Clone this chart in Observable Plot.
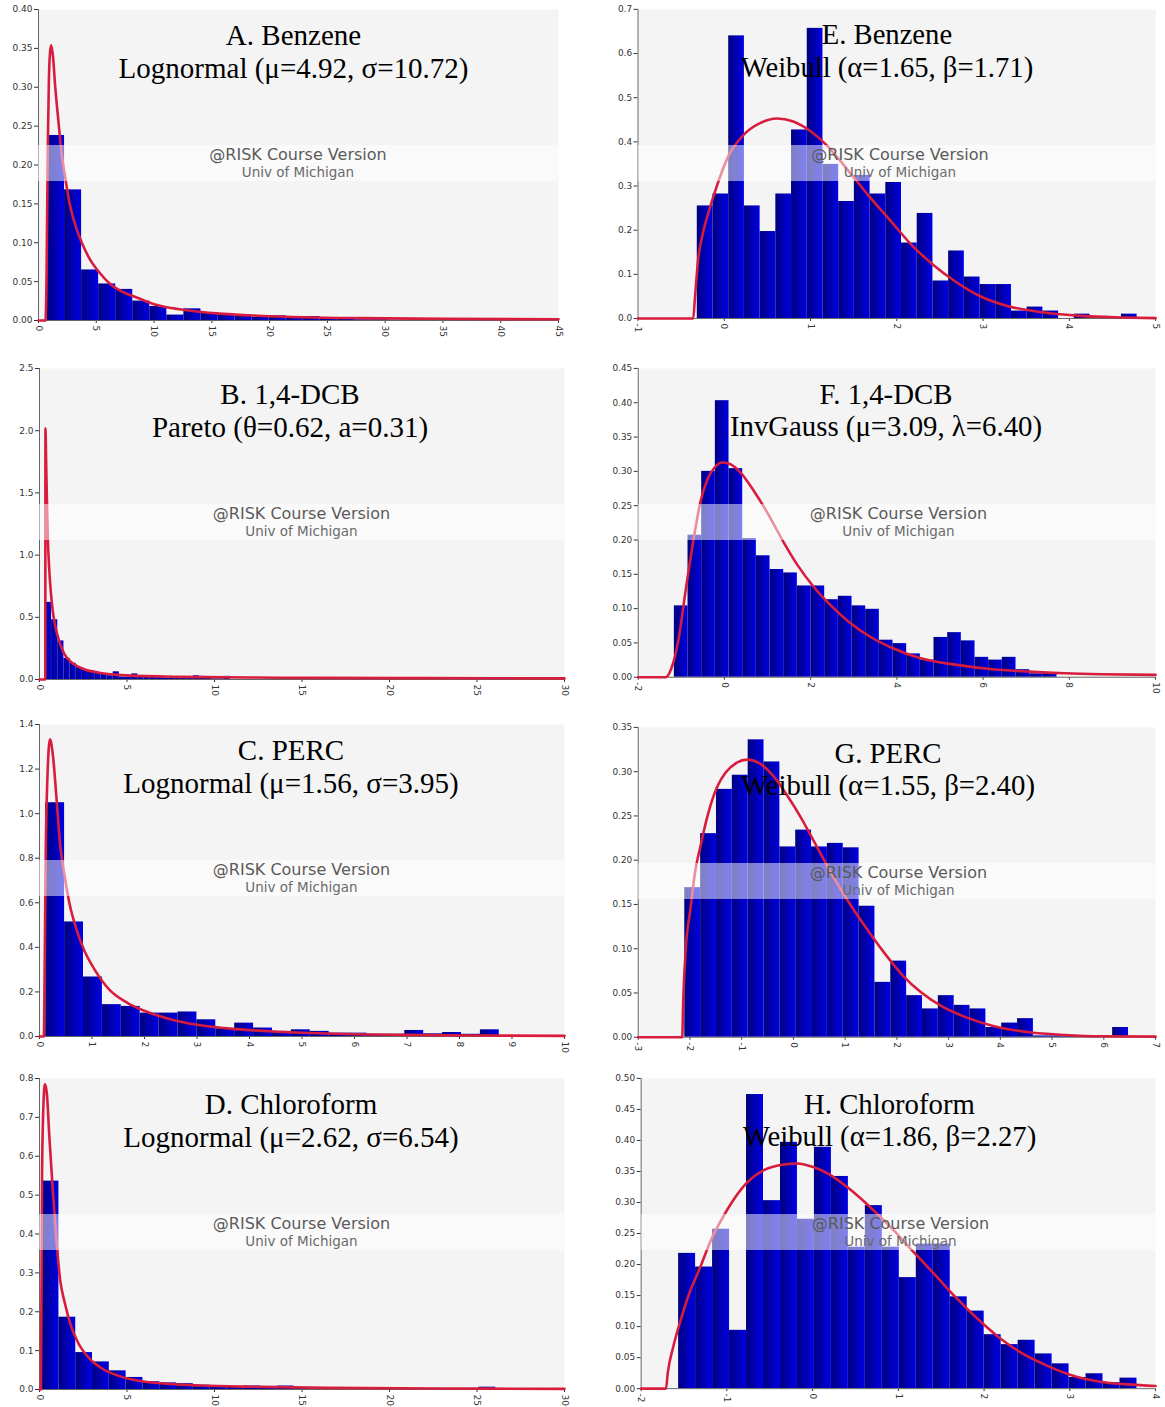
<!DOCTYPE html>
<html>
<head>
<meta charset="utf-8">
<script src="https://cdn.jsdelivr.net/npm/d3@7"></script>
<script src="https://cdn.jsdelivr.net/npm/@observablehq/plot@0.6"></script>
<style>
  body { margin: 0; background: #fff; }
  #page { position: relative; width: 1165px; height: 1407px; overflow: hidden; }
  .panel { position: absolute; }
  .band { position: absolute; background: rgba(255,255,255,0.5); text-align: center;
          font-family: "DejaVu Sans", Verdana, sans-serif; pointer-events: none; }
  .band .l1 { font-size: 16px; color: #5a5a5a; line-height: 19px; margin-top: 0px; }
  .band .l2 { font-size: 13.5px; color: #6a6a6a; line-height: 16px; }
</style>
</head>
<body>
<div id="page"></div>
<script>
// ---------- A. Benzene, lognormal fit ----------
const aTitle = "A. Benzene\nLognormal (μ=4.92, σ=10.72)";
const aStart = 0.78, aWidth = 1.475;
const aHeights = [0.238,0.168,0.065,0.047,0.040,0.025,0.018,0.007,0.015,0.009,0.008,0.007,0.004,0.006,0.004,0.005,0.003,0.003,0.001,0.001,0.0005,0.0005,0.0005,0.0005,0.0005,0.0005,0.0005,0.0005,0.002,0.0005];
const aCurve = [[0,0],[0.6,0],[0.7,0.06],[0.8,0.22],[0.9,0.31],[1.0,0.345],[1.1,0.354],[1.25,0.34],[1.45,0.30],[1.7,0.26],[2.0,0.215],[2.3,0.185],[2.7,0.15],[3.2,0.122],[3.75,0.10],[4.4,0.08],[5.2,0.063],[6.2,0.047],[7.4,0.036],[8.6,0.029],[10,0.021],[11.5,0.016],[13.5,0.012],[16,0.0085],[19,0.0062],[23,0.0042],[28,0.003],[35,0.0022],[45,0.0016]];
const aXTicks = [0,5,10,15,20,25,30,35,40,45];
const aYTicks = [0,0.05,0.10,0.15,0.20,0.25,0.30,0.35,0.40];

// ---------- B. 1,4-DCB, Pareto fit ----------
const bTitle = "B. 1,4-DCB\nPareto (θ=0.62, a=0.31)";
const bStart = 0.34, bWidth = 0.352;
const bHeights = [0.62,0.48,0.31,0.17,0.13,0.095,0.075,0.07,0.05,0.04,0.03,0.062,0.02,0.02,0.045,0.02,0.03,0.02,0.015,0.01,0.008,0.01,0.012,0.015,0.03,0.025,0.008,0.005,0.005,0.025];
const bCurve = [[0,0],[0.33,0],[0.34,2.02],[0.38,1.75],[0.43,1.4],[0.48,1.12],[0.55,0.9],[0.65,0.7],[0.75,0.56],[0.9,0.43],[1.1,0.32],[1.4,0.21],[1.9,0.13],[2.5,0.085],[3.4,0.055],[5,0.033],[8,0.021],[12,0.016],[16,0.013],[22,0.011],[30,0.009]];
const bXTicks = [0,5,10,15,20,25,30];
const bYTicks = [0,0.5,1.0,1.5,2.0,2.5];

// ---------- C. PERC, lognormal fit ----------
const cTitle = "C. PERC\nLognormal (μ=1.56, σ=3.95)";
const cStart = 0.118, cWidth = 0.36;
const cHeights = [1.049,0.514,0.267,0.143,0.135,0.105,0.105,0.110,0.075,0.035,0.060,0.038,0.023,0.030,0.023,0.015,0.015,0.010,0.010,0.027,0.012,0.018,0.010,0.030];
const cCurve = [[0,0],[0.083,0],[0.097,0.27],[0.118,0.81],[0.152,1.17],[0.2,1.334],[0.256,1.26],[0.325,1.066],[0.395,0.856],[0.478,0.721],[0.568,0.60],[0.706,0.48],[0.845,0.39],[1.05,0.30],[1.33,0.21],[1.68,0.15],[2.02,0.113],[2.58,0.072],[3.13,0.048],[3.75,0.033],[4.45,0.0225],[5.48,0.0135],[6.87,0.0075],[8.25,0.0045],[10,0.003]];
const cXTicks = [0,1,2,3,4,5,6,7,8,9,10];
const cYTicks = [0,0.2,0.4,0.6,0.8,1.0,1.2,1.4];

// ---------- D. Chloroform, lognormal fit ----------
const dTitle = "D. Chloroform\nLognormal (μ=2.62, σ=6.54)";
const dStart = 0.15, dWidth = 0.96;
const dHeights = [0.536,0.186,0.095,0.071,0.048,0.031,0.020,0.017,0.015,0.011,0.009,0.007,0.009,0.008,0.009,0.003,0.002,0.002,0.002,0.002,0.002,0.002,0.001,0.001,0.001,0.001,0.006];
const dCurve = [[0,0],[0.08,0],[0.145,0.549],[0.23,0.738],[0.31,0.785],[0.415,0.764],[0.56,0.652],[0.77,0.506],[0.98,0.377],[1.18,0.282],[1.45,0.222],[1.81,0.162],[2.22,0.119],[2.85,0.080],[3.57,0.054],[4.40,0.037],[5.65,0.0224],[7.1,0.0155],[9.18,0.0103],[12.3,0.0069],[16.5,0.0043],[22.7,0.0026],[30,0.0017]];
const dXTicks = [0,5,10,15,20,25,30];
const dYTicks = [0,0.1,0.2,0.3,0.4,0.5,0.6,0.7,0.8];

// ---------- E. Benzene (log scale), Weibull fit ----------
const eTitle = "E. Benzene\nWeibull (α=1.65, β=1.71)";
const eStart = -0.313, eWidth = 0.1821;
const eHeights = [0.255,0.282,0.640,0.255,0.197,0.282,0.427,0.657,0.349,0.265,0.324,0.282,0.308,0.171,0.238,0.085,0.153,0.094,0.077,0.077,0.017,0.026,0.017,0.0,0.010,0.002,0.002,0.010];
const eCurve = [[-1,0],[-0.36,0],[-0.34,0.047],[-0.305,0.13],[-0.243,0.197],[-0.18,0.242],[-0.12,0.28],[0.05,0.369],[0.22,0.415],[0.42,0.443],[0.61,0.453],[0.8,0.446],[1.0,0.424],[1.2,0.39],[1.42,0.339],[1.67,0.279],[1.92,0.223],[2.17,0.167],[2.42,0.122],[2.67,0.085],[2.96,0.051],[3.29,0.028],[3.71,0.0135],[4.13,0.006],[4.6,0.0025],[5,0.001]];
const eXTicks = [-1,0,1,2,3,4,5];
const eYTicks = [0,0.1,0.2,0.3,0.4,0.5,0.6,0.7];

// ---------- F. 1,4-DCB (log scale), inverse Gaussian fit ----------
const fTitle = "F. 1,4-DCB\nInvGauss (μ=3.09, λ=6.40)";
const fStart = -1.162, fWidth = 0.317;
const fHeights = [0.104,0.207,0.300,0.403,0.304,0.202,0.177,0.157,0.152,0.133,0.133,0.113,0.118,0.104,0.099,0.054,0.049,0.034,0.025,0.058,0.065,0.053,0.029,0.025,0.029,0.011,0.005,0.006];
const fCurve = [[-2,0],[-1.36,0],[-1.23,0.013],[-1.06,0.057],[-0.894,0.129],[-0.726,0.197],[-0.559,0.255],[-0.39,0.289],[-0.223,0.306],[-0.056,0.313],[0.112,0.311],[0.363,0.299],[0.698,0.27],[1.03,0.236],[1.37,0.197],[1.70,0.163],[2.04,0.134],[2.46,0.105],[2.88,0.081],[3.38,0.059],[3.88,0.043],[4.55,0.0276],[5.39,0.018],[6.23,0.0116],[7.07,0.0082],[7.9,0.0058],[8.74,0.0044],[10,0.0034]];
const fXTicks = [-2,0,2,4,6,8,10];
const fYTicks = [0,0.05,0.10,0.15,0.20,0.25,0.30,0.35,0.40,0.45];

// ---------- G. PERC (log scale), Weibull fit ----------
const gTitle = "G. PERC\nWeibull (α=1.55, β=2.40)";
const gStart = -2.1, gWidth = 0.3063;
const gHeights = [0.169,0.230,0.280,0.296,0.336,0.311,0.215,0.234,0.215,0.219,0.214,0.148,0.062,0.086,0.047,0.032,0.047,0.036,0.032,0.011,0.016,0.021,0.0015,0.0015,0.0015,0.0015,0.001,0.011];
const gCurve = [[-3,0],[-2.148,0],[-2.134,0.033],[-2.08,0.10],[-1.99,0.145],[-1.90,0.187],[-1.80,0.215],[-1.66,0.25],[-1.48,0.282],[-1.31,0.299],[-1.10,0.31],[-0.89,0.3136],[-0.647,0.309],[-0.40,0.296],[-0.12,0.273],[0.156,0.247],[0.436,0.217],[0.715,0.187],[1.064,0.153],[1.41,0.123],[1.76,0.095],[2.11,0.070],[2.46,0.051],[2.88,0.0345],[3.30,0.0233],[3.86,0.0128],[4.56,0.0056],[5.25,0.0026],[5.95,0.0011],[7,0.0007]];
const gXTicks = [-3,-2,-1,0,1,2,3,4,5,6,7];
const gYTicks = [0,0.05,0.10,0.15,0.20,0.25,0.30,0.35];

// ---------- H. Chloroform (log scale), Weibull fit ----------
const hTitle = "H. Chloroform\nWeibull (α=1.86, β=2.27)";
const hStart = -1.563, hWidth = 0.198;
const hHeights = [0.218,0.196,0.257,0.094,0.474,0.303,0.397,0.273,0.389,0.342,0.228,0.295,0.228,0.179,0.233,0.233,0.148,0.125,0.087,0.071,0.078,0.056,0.040,0.018,0.024,0.0096,0.017];
const hCurve = [[-2,0],[-1.71,0],[-1.69,0.025],[-1.626,0.067],[-1.54,0.11],[-1.44,0.153],[-1.31,0.196],[-1.19,0.238],[-1.06,0.273],[-0.934,0.302],[-0.766,0.332],[-0.556,0.353],[-0.346,0.361],[-0.178,0.363],[-0.01,0.358],[0.2,0.345],[0.41,0.324],[0.66,0.294],[0.913,0.26],[1.165,0.222],[1.417,0.185],[1.67,0.147],[1.92,0.113],[2.17,0.083],[2.42,0.059],[2.72,0.038],[3.01,0.022],[3.35,0.0112],[3.68,0.0069],[4,0.0043]];
const hXTicks = [-2,-1,0,1,2,3,4];
const hYTicks = [0,0.05,0.10,0.15,0.20,0.25,0.30,0.35,0.40,0.45,0.50];

// Panel layout: frame = [left, top, right, bottom] of the plotting area on the page
const panels = [
  {id: "a", title: aTitle, start: aStart, width: aWidth, heights: aHeights, curve: aCurve, xTicks: aXTicks, yTicks: aYTicks, yDec: 2, frame: [38, 9, 558, 320], dx: -5},
  {id: "e", title: eTitle, start: eStart, width: eWidth, heights: eHeights, curve: eCurve, xTicks: eXTicks, yTicks: eYTicks, yDec: 1, frame: [638, 9, 1162, 322], dx: -10},
  {id: "b", title: bTitle, start: bStart, width: bWidth, heights: bHeights, curve: bCurve, xTicks: bXTicks, yTicks: bYTicks, yDec: 1, frame: [39, 368, 564, 679], dx: -12},
  {id: "f", title: fTitle, start: fStart, width: fWidth, heights: fHeights, curve: fCurve, xTicks: fXTicks, yTicks: fYTicks, yDec: 2, frame: [638, 368, 1159, 679], dx: -11},
  {id: "c", title: cTitle, start: cStart, width: cWidth, heights: cHeights, curve: cCurve, xTicks: cXTicks, yTicks: cYTicks, yDec: 1, frame: [39, 724, 564, 1036], dx: -11},
  {id: "g", title: gTitle, start: gStart, width: gWidth, heights: gHeights, curve: gCurve, xTicks: gXTicks, yTicks: gYTicks, yDec: 2, frame: [638, 727, 1159, 1039], dx: -9},
  {id: "d", title: dTitle, start: dStart, width: dWidth, heights: dHeights, curve: dCurve, xTicks: dXTicks, yTicks: dYTicks, yDec: 1, frame: [39, 1078, 564, 1389], dx: -11},
  {id: "h", title: hTitle, start: hStart, width: hWidth, heights: hHeights, curve: hCurve, xTicks: hXTicks, yTicks: hYTicks, yDec: 2, frame: [641, 1078, 1160, 1391], dx: -9}
];

const page = document.getElementById("page");
const M = {left: 40, top: 10, right: 10, bottom: 32};

function drawPanel(p) {
  const [L, T, R, B] = p.frame;
  const W = R - L, H = B - T;
  const bars = p.heights.map((h, i) => ({x1: p.start + i * p.width, x2: p.start + (i + 1) * p.width, y: h}));
  const xDomain = [p.xTicks[0], p.xTicks[p.xTicks.length - 1]];
  const yDomain = [p.yTicks[0], p.yTicks[p.yTicks.length - 1]];
  const gid = "barShade-" + p.id;

  // horizontal shading used by every histogram bar (dark left edge to bright right edge)
  const shading = () => {
    const defs = d3.create("svg:defs");
    const lg = defs.append("linearGradient").attr("id", gid)
      .attr("x1", 0).attr("x2", 1).attr("y1", 0).attr("y2", 0);
    lg.append("stop").attr("offset", "0%").attr("stop-color", "#000080");
    lg.append("stop").attr("offset", "100%").attr("stop-color", "#0000e4");
    return defs.node();
  };

  const chart = Plot.plot({
    width: W + M.left + M.right,
    height: H + M.top + M.bottom,
    marginLeft: M.left, marginTop: M.top, marginRight: M.right, marginBottom: M.bottom,
    style: {fontFamily: "DejaVu Sans, Verdana, sans-serif", fontSize: "9px", color: "#333", background: "transparent", overflow: "visible"},
    x: {domain: xDomain, ticks: p.xTicks, tickFormat: d => String(d), tickRotate: 90, tickSize: 3, tickPadding: 2, label: null},
    y: {domain: yDomain, ticks: p.yTicks, tickFormat: d => d.toFixed(p.yDec), tickSize: 4, tickPadding: 2, label: null},
    marks: [
      Plot.frame({fill: "#f4f4f4", stroke: null}),
      shading,
      Plot.rectY(bars, {x1: "x1", x2: "x2", y: "y", fill: `url(#${gid})`, inset: 0}),
      Plot.ruleX([xDomain[0]], {stroke: "#666"}),
      Plot.ruleY([yDomain[0]], {stroke: "#666"}),
      Plot.line(p.curve, {x: d => d[0], y: d => d[1], stroke: "#d81c3e", strokeWidth: 2.6, curve: "monotone-x"}),
      Plot.text([p.title], {text: d => d, frameAnchor: "top", lineAnchor: "top", dy: 12, dx: p.dx,
        fontFamily: "Liberation Serif, Times New Roman, serif", fontSize: 29, lineHeight: 1.14, fill: "#000"})
    ]
  });

  const wrap = document.createElement("div");
  wrap.className = "panel";
  wrap.style.left = (L - M.left) + "px";
  wrap.style.top = (T - M.top) + "px";
  wrap.appendChild(chart);
  page.appendChild(wrap);

  // translucent course-version banner across the plotting area
  const band = document.createElement("div");
  band.className = "band";
  band.style.left = L + "px";
  band.style.top = (T + 136) + "px";
  band.style.width = W + "px";
  band.style.height = "36px";
  band.innerHTML = '<div class="l1">@RISK Course Version</div><div class="l2">Univ of Michigan</div>';
  page.appendChild(band);
}

panels.forEach(drawPanel);
</script>
</body>
</html>
